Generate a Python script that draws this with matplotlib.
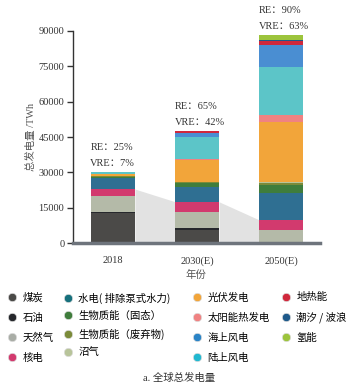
import numpy as np
import matplotlib.pyplot as plt
from matplotlib.lines import Line2D

plt.rcParams['font.family'] = ['Liberation Serif', 'Noto Sans CJK SC', 'DejaVu Sans']

# data (TWh)
years = ['2018', '2030(E)', '2050(E)']
sources = ['煤炭', '石油', '天然气', '核电',
           '水电( 排除泵式水力)', '生物质能（固态）', '生物质能（废弃物)', '沼气',
           '光伏发电', '太阳能热发电', '海上风电', '陆上风电',
           '地热能', '潮汐 / 波浪', '氢能']
coal = [12800, 5800, 0]
oil = [600, 550, 0]
gas = [6600, 7050, 5600]
nuclear = [3000, 4200, 4300]
hydro = [4800, 6400, 11300]
bio_solid = [500, 1400, 3500]
bio_waste = [100, 500, 700]
biogas = [100, 200, 500]
pv = [700, 9200, 25400]
csp = [50, 300, 2800]
onshore = [1000, 9500, 20500]
offshore = [50, 1700, 9100]
geothermal = [0, 700, 1700]
tidal = [0, 100, 700]
hydrogen = [0, 100, 1900]
re_share = ['25%', '65%', '90%']
vre_share = ['7%', '42%', '63%']

colors = {'煤炭': '#4b4a48', '石油': '#26282c', '天然气': '#b4baa8', '核电': '#d23a6e',
          '水电( 排除泵式水力)': '#2f6f92', '生物质能（固态）': '#3f7d3c',
          '生物质能（废弃物)': '#7b8b3a', '沼气': '#b8c49a',
          '光伏发电': '#f2a53a', '太阳能热发电': '#f08282', '海上风电': '#4a8ed2',
          '陆上风电': '#5cc5c8', '地热能': '#d0283c', '潮汐 / 波浪': '#1f5a8a',
          '氢能': '#9cc43c'}
legend_colors = dict(colors)
legend_colors['水电( 排除泵式水力)'] = '#16707c'
legend_colors['陆上风电'] = '#22b8d0'
legend_colors['海上风电'] = '#2a84c6'
legend_colors['天然气'] = '#a9ada6'

# stacking order from bottom to top
stack = [('煤炭', coal), ('石油', oil), ('天然气', gas), ('核电', nuclear),
         ('水电( 排除泵式水力)', hydro), ('生物质能（固态）', bio_solid),
         ('生物质能（废弃物)', bio_waste), ('沼气', biogas),
         ('光伏发电', pv), ('太阳能热发电', csp), ('陆上风电', onshore),
         ('海上风电', offshore), ('地热能', geothermal), ('潮汐 / 波浪', tidal),
         ('氢能', hydrogen)]

fig = plt.figure(figsize=(3.58, 3.92), dpi=100)
ax = fig.add_axes([0.203, 0.379, 0.691, 0.543])

x = np.arange(len(years))
w = 0.52

# grey "shadow" between bars, following fossil + nuclear level
base_top = np.array(coal) + np.array(oil) + np.array(gas) + np.array(nuclear)
for i in range(len(years) - 1):
    ax.fill_between([x[i] + w / 2, x[i + 1] - w / 2], [base_top[i], base_top[i + 1]], 0,
                    color='#d6d6d6', alpha=0.7, lw=0, zorder=1)

bottom = np.zeros(len(years))
for name, vals in stack:
    ax.bar(x, vals, w, bottom=bottom, color=colors[name], edgecolor='none', zorder=2)
    bottom += np.array(vals)

for i in range(len(years)):
    ax.text(x[i] - w / 2 - 0.01, bottom[i] + 10400, 'RE：' + re_share[i],
            fontsize=7.5, color='#333333', ha='left', va='center')
    ax.text(x[i] - w / 2 - 0.01, bottom[i] + 3600, 'VRE：' + vre_share[i],
            fontsize=7.5, color='#333333', ha='left', va='center')

ax.set_xlim(-0.48, 2.46)
ax.set_ylim(0, 90000)
ax.set_yticks(np.arange(0, 90001, 15000))
ax.set_xticks(x)
ax.set_xticklabels(years)
ax.tick_params(axis='y', labelsize=7.5, length=4, width=1, colors='#333333', pad=2)
ax.tick_params(axis='x', labelsize=7.5, length=0, pad=9, colors='#333333')
for s in ['top', 'right']:
    ax.spines[s].set_visible(False)
ax.spines['left'].set_color('#333333')
ax.spines['left'].set_linewidth(1)
ax.spines['bottom'].set_color('#6e747c')
ax.spines['bottom'].set_linewidth(2.5)
ax.set_ylabel('总发电量 /TWh', fontsize=7.5, color='#555555', labelpad=2)
ax.set_xlabel('年份', fontsize=7.5, color='#555555', labelpad=3)

# legend: four columns placed one by one
col_x = [12, 68, 197, 286]          # marker centres, px
col_sp = [0.95, 0.72, 0.95, 0.9]    # row spacing per column
for c in range(4):
    names = sources[c * 4:(c + 1) * 4]
    handles = [Line2D([], [], marker='o', ls='none', markersize=6,
                      markerfacecolor=legend_colors[n], markeredgecolor='#dddddd',
                      markeredgewidth=0.5) for n in names]
    fig.legend(handles, names, loc='upper left',
               bbox_to_anchor=((col_x[c] - 5.2) / 358, 0.254),
               frameon=False, handletextpad=0.5, labelspacing=col_sp[c],
               handlelength=1.0, borderaxespad=0, borderpad=0,
               prop={'family': ['Noto Sans CJK SC', 'DejaVu Sans'], 'size': 7.5})
fig.text(0.5, 0.036, 'a. 全球总发电量', ha='center', va='center', fontsize=7.5,
         color='#333333')

fig.savefig('out.png', dpi=100)
